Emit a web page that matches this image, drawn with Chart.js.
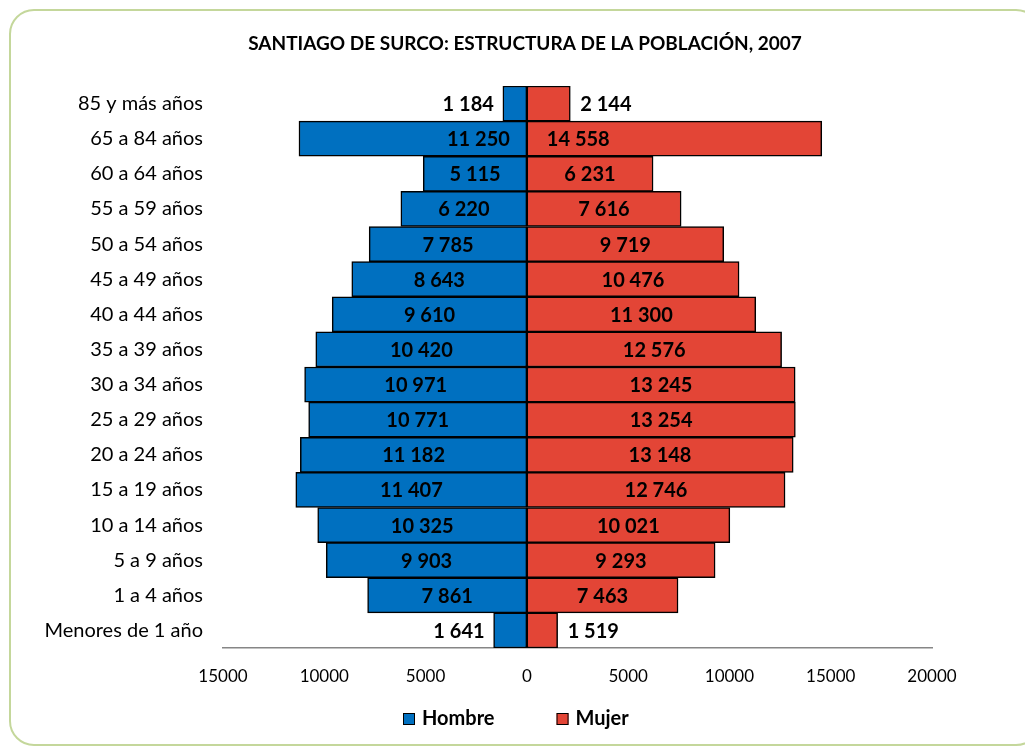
<!DOCTYPE html>
<html>
<head>
<meta charset="utf-8">
<script src="https://cdn.jsdelivr.net/npm/chart.js@4.4.1/dist/chart.umd.min.js"></script>
<style>
  html, body { margin: 0; padding: 0; background: #fff; }
  #wrap { width: 1025px; height: 747px; }
</style>
</head>
<body>
<div id="wrap"><canvas id="myChart" width="1025" height="747"></canvas></div>
<script>
// grupos de edad (de arriba hacia abajo)
const edades = ['85 y más años', '65 a 84 años', '60 a 64 años', '55 a 59 años', '50 a 54 años',
    '45 a 49 años', '40 a 44 años', '35 a 39 años', '30 a 34 años', '25 a 29 años',
    '20 a 24 años', '15 a 19 años', '10 a 14 años', '5 a 9 años', '1 a 4 años', 'Menores de 1 año'];
const hombres = [1184, 11250, 5115, 6220, 7785, 8643, 9610, 10420, 10971, 10771, 11182, 11407, 10325, 9903, 7861, 1641];
const mujeres = [2144, 14558, 6231, 7616, 9719, 10476, 11300, 12576, 13245, 13254, 13148, 12746, 10021, 9293, 7463, 1519];
// posicion de la etiqueta por fila: fuera de la barra, junto al eje, o centrada
const posEtiqueta = ['fuera', 'eje', 'centro', 'centro', 'centro', 'centro', 'centro', 'centro',
    'centro', 'centro', 'centro', 'centro', 'centro', 'centro', 'centro', 'fuera'];
const ejeMin = -15000;
const ejeMax = 20000;
const paso = 5000;

const FONT = 'Lato';
Chart.defaults.font.family = FONT;
Chart.defaults.color = '#000';

/**
 * formato con espacio como separador de miles
 */
function fmt(v){
    return String(Math.abs(v)).replace(/\B(?=(\d{3})+(?!\d))/g, ' ');
}

// marco redondeado verde
const marco = {
    id: 'marco',
    beforeDraw(chart){
        const ctx = chart.ctx;
        ctx.save();
        ctx.fillStyle = '#fff';
        ctx.fillRect(0, 0, chart.width, chart.height);
        ctx.strokeStyle = '#C4D79B';
        ctx.lineWidth = 2;
        ctx.beginPath();
        ctx.roundRect(10, 10, 1030, 735, 24);
        ctx.stroke();
        ctx.restore();
    }
};

// etiquetas de datos
const etiquetas = {
    id: 'etiquetas',
    afterDatasetsDraw(chart){
        const ctx = chart.ctx;
        ctx.save();
        ctx.font = 'bold 20px ' + FONT;
        ctx.fillStyle = '#000';
        ctx.textBaseline = 'middle';
        chart.data.datasets.forEach((ds, i) => {
            const meta = chart.getDatasetMeta(i);
            const izq = i === 0;
            meta.data.forEach((bar, j) => {
                const txt = fmt(ds.data[j]);
                const modo = posEtiqueta[j];
                let x;
                if (modo === 'fuera'){
                    ctx.textAlign = izq ? 'right' : 'left';
                    x = izq ? bar.x - 9 : bar.x + 10;
                } else if (modo === 'eje'){
                    ctx.textAlign = izq ? 'right' : 'left';
                    x = izq ? bar.base - 17 : bar.base + 20;
                } else {
                    ctx.textAlign = 'center';
                    x = (bar.x + bar.base) / 2;
                }
                ctx.fillText(txt, x, bar.y + 1);
            });
        });
        ctx.restore();
    }
};

// leyenda inferior
const leyenda = {
    id: 'leyenda',
    afterDraw(chart){
        const ctx = chart.ctx;
        ctx.save();
        ctx.font = 'bold 20px ' + FONT;
        ctx.textBaseline = 'middle';
        ctx.textAlign = 'left';
        const y = 719;
        let x = 403;
        chart.data.datasets.forEach(ds => {
            ctx.fillStyle = ds.backgroundColor;
            ctx.fillRect(x, y - 6, 12, 12);
            ctx.strokeStyle = '#000';
            ctx.lineWidth = 1;
            ctx.strokeRect(x + 0.5, y - 5.5, 11, 11);
            ctx.fillStyle = '#000';
            ctx.fillText(ds.label, x + 19, y);
            x += 19 + ctx.measureText(ds.label).width + 62;
        });
        ctx.restore();
    }
};

const canvas = document.getElementById('myChart');
const ctx = canvas.getContext('2d');
const myChart = new Chart(ctx, {
    type: 'bar',
    data: {
        labels: edades,
        datasets: [{
            label: 'Hombre',
            data: hombres.map(v => -v),
            backgroundColor: '#0070C0',
            borderColor: '#000',
            borderWidth: 1.5,
            borderSkipped: false
        },
        {
            label: 'Mujer',
            data: mujeres,
            backgroundColor: '#E34536',
            borderColor: '#000',
            borderWidth: 1.5,
            borderSkipped: false
        }]
    },
    options: {
        indexAxis: 'y',
        responsive: false,
        animation: false,
        layout: { padding: { left: 25, right: 0, top: 0, bottom: 61 } },
        plugins: {
            title: {
                display: true,
                text: 'SANTIAGO DE SURCO: ESTRUCTURA DE LA POBLACIÓN, 2007',
                font: { size: 19, weight: 'bold' },
                color: '#000',
                padding: { top: 32.6, bottom: 30.6 }
            },
            legend: { display: false },
            tooltip: { enabled: false }
        },
        scales: {
            x: {
                type: 'linear',
                min: ejeMin,
                max: ejeMax,
                grid: { display: false, drawTicks: false },
                border: { display: true, color: '#868686', width: 1.5 },
                ticks: {
                    stepSize: paso,
                    padding: 18,
                    font: { size: 17 },
                    callback: v => String(Math.abs(v))
                },
                afterFit: s => { s.height = 38; }
            },
            y: {
                stacked: true,
                grid: { display: false, drawTicks: false },
                border: { display: false },
                ticks: { padding: 20, font: { size: 20 } },
                afterFit: s => { s.width = 198; }
            },
            // eje vacio a la derecha para reservar el margen
            margen: {
                axis: 'y',
                type: 'category',
                position: 'right',
                grid: { display: false, drawTicks: false },
                border: { display: false },
                ticks: { display: false },
                afterFit: s => { s.width = 93; }
            }
        },
        datasets: { bar: { categoryPercentage: 1, barPercentage: 1 } }
    },
    plugins: [marco, etiquetas, leyenda]
});
</script>
</body>
</html>
